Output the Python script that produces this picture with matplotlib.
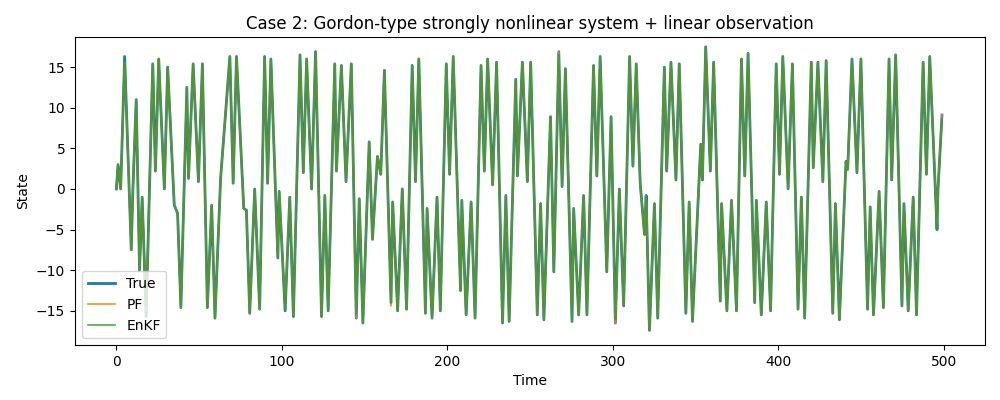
import numpy as np
import matplotlib.pyplot as plt

# turning points (time, state)
t_pts = [0, 1, 2.6, 5, 9, 10, 12, 14, 15.6, 18, 22, 23.6, 25.6, 29, 31, 35, 37, 39,
         42.6, 43.6, 46.4, 49.6, 52, 55, 57.6, 59.6, 63, 68.6, 70.6, 72.6, 77, 78.6,
         80.6, 83.6, 86.6, 89.6, 91.4, 93.4, 97.6, 98.4, 102, 104.8, 107, 111, 113,
         115, 118, 120.4, 124, 126, 128, 132, 133, 136, 138.8, 142, 145, 146.8, 149,
         152.8, 154.8, 157.8, 159.8, 162, 166, 167, 170, 172.8, 175.4, 178.8, 180.8,
         182.8, 186.8, 187.8, 190.8, 193.8, 195.8, 199.4, 201.4, 203.6, 208, 208.8,
         211.4, 214.4, 216.8, 220.4, 222.4, 224.4, 227.4, 229.8, 233.4, 235.4, 237.4,
         241.4, 242.4, 245.4, 248.4, 250.4, 254.4, 256.4, 258.4, 262.4, 264.4, 267.4,
         269.4, 271.4, 275.4, 276.4, 279.4, 282.4, 284.4, 288.4, 290.4, 292.4, 296.4,
         299, 301.6, 304, 306.6, 310.2, 312.2, 314.2, 316.6, 319.2, 320.2, 322.2,
         325.2, 327.2, 331.2, 332.6, 335.2, 338.2, 340.2, 344.2, 346.2, 348.2, 353.2,
         354.2, 356.2, 359, 361, 365, 365.8, 369, 371.8, 374.8, 377.8, 379.8, 381.8,
         385.8, 386.8, 389.8, 392.8, 395.4, 398.8, 400.8, 402.8, 406, 408.6, 412, 414,
         416, 420, 421.2, 424, 427, 429, 433, 434.6, 437, 441, 442, 444.6, 447.6, 450,
         454, 455.6, 457.6, 461, 463.6, 467, 468.6, 471, 474.8, 476, 478.6, 481.6,
         483.6, 487.6, 489.6, 491.6, 496, 496.6, 499]
v_pts = [0, 3, 0, 16.3, -7.5, 0, 11, -10, -1, -15.7, 15.4, 2.2, 16, 0, 15, -2, -3, -14.6,
         12.5, 1.3, 15.4, 0.9, 15.4, -14.6, -2, -15.9, 1.3, 16.3, 0.7, 16.3, -2.4, -2.6,
         -15.3, 0, -14.8, 16.3, 0.7, 16, -8.5, -0.3, -15, -1, -15.7, 16.5, 2, 16, 0,
         16.9, -15.7, -0.8, -15, 15.4, 2.2, 15.2, 0.9, 15.4, -15.9, -1.2, -16.5, 5.8,
         -6.2, 4, 1.8, 14.6, -14, -1.6, -15, 0, -14.8, 15.2, 0.9, 16, -15.3, -2.4,
         -15.9, -1, -15, 15.4, 1.8, 16.3, -12.5, -1.4, -15.5, -1.6, -15.9, 15.2, 2.2,
         16, 0.5, 15.6, -16.5, -0.8, -16.3, 13.5, 1.6, 15.6, 0.9, 15.6, -15.5, -1.8,
         -16.1, 8.9, -10.2, 16.9, 0.3, 14.8, -16.3, -2.4, -15.5, -0.8, -15.5, 15.2, 1.6,
         16.3, -10.2, 8.9, -16.5, 0, -14.4, 16.3, 2.8, 15.4, 0.7, -5.6, -0.8, -17.4,
         -1.8, -15.9, 15, 2.2, 15.6, 1.1, 15.4, -15.3, -1.6, -16.3, 5.5, 1.1, 17.5, 2.2,
         15.6, -13.8, -1.8, -15, -1.4, -15, 16, 1.6, 16.7, -14, -1.4, -15.5, -1.6, -15,
         15.4, 1.8, 16.3, 0, 15.4, -14.8, -1, -15.9, 15.6, 2.6, 15.6, 0.9, 15.8, -15.3,
         -1.8, -16.1, 3.4, 2.4, 16, 2, 16, -14.8, -2.2, -15.5, -0.3, -14.6, 16, 1.1,
         16.5, -14.4, -1.8, -15, -1, -15.5, 15.6, 1.8, 16.3, -5, 0, 9.1]

t_true = np.array(t_pts)
x_true = np.array(v_pts)
# filter estimates track the truth closely, with small misses at a few extremes
x_pf = x_true.copy()
x_enkf = x_true.copy()
x_pf[[3, 9, 40, 64, -3]] = [15.5, -15.0, -14.6, -14.4, -4.6]
x_enkf[[3, 9, 56, 103, 116, -1]] = [15.6, -14.5, -15.4, 16.5, -16.0, 8.6]

fig, ax = plt.subplots(figsize=(10, 4), dpi=100)
ax.plot(t_true, x_true, color="#1f77b4", lw=2, label="True")
ax.plot(t_true, x_pf, color="#ff7f0e", lw=1.2, alpha=0.9, label="PF")
ax.plot(t_true, x_enkf, color="#2ca02c", lw=1.2, alpha=0.85, label="EnKF")
ax.set_xlim(-25, 525)
ax.set_ylim(-19.2, 18.7)
ax.set_yticks([-15, -10, -5, 0, 5, 10, 15])
ax.set_xlabel("Time")
ax.set_ylabel("State")
ax.set_title("Case 2: Gordon-type strongly nonlinear system + linear observation")
ax.legend(loc="lower left")
plt.subplots_adjust(left=0.075, right=0.985, top=0.9075, bottom=0.1375)
plt.savefig("out.png")
